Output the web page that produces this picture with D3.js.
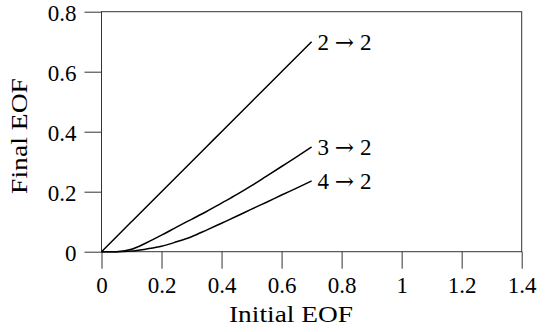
<!DOCTYPE html>
<html lang="en">
<head>
<meta charset="UTF-8">
<script src="https://d3js.org/d3.v7.min.js"></script>
<style>
  body { margin: 0; background: #fff; }
</style>
</head>
<body>
<div id="chart"></div>
<script>
// data
const initialEOF = [0, 0.05, 0.1, 0.15, 0.2, 0.25, 0.3, 0.35, 0.4, 0.45, 0.5, 0.55, 0.6, 0.65, 0.7];
const final22 = [0, 0.05, 0.1, 0.15, 0.2, 0.25, 0.3, 0.35, 0.4, 0.45, 0.5, 0.55, 0.6, 0.65, 0.7];
const final32 = [0, 0, 0.008, 0.03, 0.055, 0.082, 0.108, 0.134, 0.162, 0.19, 0.22, 0.252, 0.284, 0.316, 0.349];
const final42 = [0, 0, 0.002, 0.009, 0.018, 0.033, 0.05, 0.072, 0.095, 0.118, 0.142, 0.165, 0.189, 0.212, 0.236];
const seriesFrom = ["2", "3", "4"];
const seriesTo = ["2", "2", "2"];
const xTicks = [0, 0.2, 0.4, 0.6, 0.8, 1, 1.2, 1.4];
const yTicks = [0, 0.2, 0.4, 0.6, 0.8];

const width = 550, height = 332;
const margin = { left: 101.5, right: 28.3, top: 11.7, bottom: 80.3 };
const serif = "Liberation Serif";
const fontSize = 23;

const svg = d3.select("#chart").append("svg")
    .attr("width", width)
    .attr("height", height)
    .attr("font-family", serif)
    .attr("font-size", fontSize);

const x = d3.scaleLinear().domain([0, 1.4]).range([margin.left, width - margin.right]);
const y = d3.scaleLinear().domain([0, 0.8]).range([height - margin.bottom, margin.top]);

const fmt = d => d3.format("")(+d.toFixed(1));

// frame
svg.append("rect")
    .attr("x", x(0)).attr("y", y(0.8))
    .attr("width", x(1.4) - x(0)).attr("height", y(0) - y(0.8))
    .attr("fill", "none").attr("stroke", "#333").attr("stroke-width", 1);

// bottom axis
const xAxis = svg.append("g")
    .attr("transform", `translate(0,${y(0)})`)
    .call(d3.axisBottom(x).tickValues(xTicks).tickSize(17).tickFormat(fmt))
    .attr("font-family", null)
    .attr("font-size", null);
xAxis.select(".domain").remove();
xAxis.selectAll("line").attr("stroke", "#333");
xAxis.selectAll("text")
    .attr("font-family", serif)
    .attr("font-size", fontSize)
    .attr("fill", "#000")
    .attr("dy", null)
    .attr("y", 41.6);

// left axis
const yAxis = svg.append("g")
    .attr("transform", `translate(${x(0)},0)`)
    .call(d3.axisLeft(y).tickValues(yTicks).tickSize(17).tickFormat(fmt))
    .attr("font-family", null)
    .attr("font-size", null);
yAxis.select(".domain").remove();
yAxis.selectAll("line").attr("stroke", "#333");
yAxis.selectAll("text")
    .attr("font-family", serif)
    .attr("font-size", fontSize)
    .attr("fill", "#000")
    .attr("dy", null)
    .attr("y", 8.5)
    .attr("x", -25);

// axis titles
svg.append("text")
    .attr("x", 291).attr("y", 321.7)
    .attr("text-anchor", "middle")
    .attr("textLength", 124).attr("lengthAdjust", "spacingAndGlyphs")
    .text("Initial EOF");

svg.append("text")
    .attr("transform", "translate(27,136) rotate(-90)")
    .attr("text-anchor", "middle")
    .attr("textLength", 116).attr("lengthAdjust", "spacingAndGlyphs")
    .text("Final EOF");

// curves
const line = d3.line()
    .x((d, i) => x(initialEOF[i]))
    .y(d => y(d))
    .curve(d3.curveMonotoneX);

const series = [final22, final32, final42];
svg.append("g")
    .selectAll("path")
    .data(series)
    .join("path")
    .attr("d", line)
    .attr("fill", "none")
    .attr("stroke", "#000")
    .attr("stroke-width", 1.5);

// end labels
const labels = svg.append("g")
    .selectAll("text")
    .data(series)
    .join("text")
    .attr("x", d => x(initialEOF[initialEOF.length - 1]) + 6)
    .attr("y", d => y(d[d.length - 1]) + 7.8);
labels.append("tspan").text((d, i) => seriesFrom[i] + " ");
labels.append("tspan")
    .attr("font-family", "DejaVu Serif")
    .text("\u2192");
labels.append("tspan").text((d, i) => " " + seriesTo[i]);
</script>
</body>
</html>
